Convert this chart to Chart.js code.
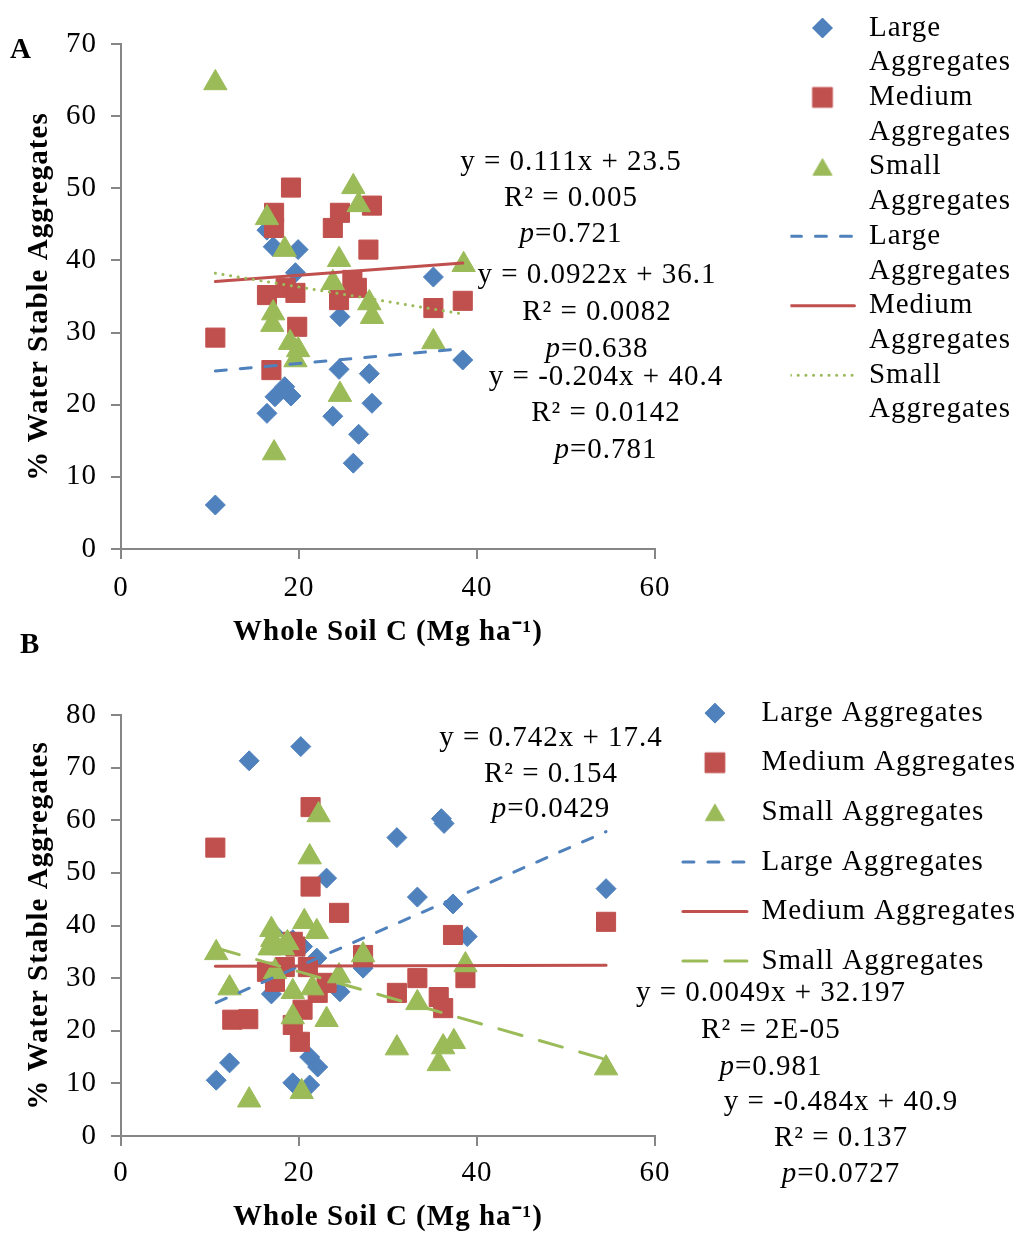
<!DOCTYPE html>
<html>
<head>
  <meta charset="utf-8">
  <title>Water Stable Aggregates vs Whole Soil C</title>
  <script src="https://cdn.jsdelivr.net/npm/chart.js"></script>
  <style>
    body {
      margin: 0;
      background: #fff;
      font-family: 'Liberation Serif', 'Times New Roman', serif;
    }
    #page {
      position: relative;
      width: 1026px;
      height: 1235px;
      overflow: hidden;
    }
    .panel {
      position: absolute;
      left: 0;
      width: 1026px;
    }
    .tag {
      position: absolute;
      font-weight: bold;
      font-size: 29px;
      line-height: 1;
    }
    .eq {
      position: absolute;
      transform: translateX(-50%);
      text-align: center;
      font-size: 29px;
      letter-spacing: 1px;
      white-space: nowrap;
    }
  </style>
</head>
<body>
<div id="page">
  <div class="panel" style="top:0;height:660px"><canvas id="chartA" width="1026" height="660"></canvas></div>
  <div class="panel" style="top:660px;height:575px"><canvas id="chartB" width="1026" height="575"></canvas></div>
  <div class="tag" style="left:10px;top:34px">A</div>
  <div class="tag" style="left:20px;top:629px">B</div>
</div>

<script>
  // ---- data ----
  const seriesNames = ['Large Aggregates', 'Medium Aggregates', 'Small Aggregates'];

  // panel A
  const aLargeX  = [10.6, 16.4, 16.4, 17.1, 17.3, 18.4, 19.1, 19.6, 19.9, 23.8, 24.5, 24.6, 26.1, 26.7, 27.9, 28.2, 35.1, 38.4];
  const aLargeY  = [6.1, 18.8, 44.2, 41.9, 21.1, 22.5, 21.2, 38.3, 41.5, 18.4, 24.9, 32.2, 11.9, 15.9, 24.3, 20.2, 37.7, 26.2];
  const aMediumX = [10.6, 16.4, 16.9, 17.2, 17.2, 18.5, 19.1, 19.6, 19.8, 23.8, 24.5, 24.6, 26.0, 26.5, 27.8, 28.2, 35.1, 38.4];
  const aMediumY = [29.3, 35.2, 24.8, 46.6, 44.5, 36.2, 50.1, 35.5, 30.8, 44.5, 34.5, 46.6, 37.3, 36.2, 41.5, 47.6, 33.4, 34.4];
  const aSmallX  = [10.6, 16.4, 17.0, 17.1, 17.2, 18.4, 19.0, 19.6, 19.9, 23.8, 24.5, 24.6, 26.1, 26.7, 27.9, 28.2, 35.1, 38.5];
  const aSmallY  = [64.6, 45.9, 31.1, 32.7, 13.3, 41.5, 28.6, 26.2, 27.6, 36.9, 40.1, 21.4, 50.2, 47.7, 34.1, 32.2, 28.7, 39.4];
  const aSlope     = [0.111, 0.0922, -0.204];
  const aIntercept = [23.5, 36.1, 40.4];
  const aEquations = [
    ['y = 0.111x + 23.5', 'R² = 0.005', 'p=0.721'],
    ['y = 0.0922x + 36.1', 'R² = 0.0082', 'p=0.638'],
    ['y = -0.204x + 40.4', 'R² = 0.0142', 'p=0.781']
  ];

  // panel B
  const bLargeX  = [10.7, 12.2, 14.4, 16.9, 17.1, 19.3, 19.3, 20.2, 20.4, 21.2, 21.2, 22.0, 22.1, 23.1, 24.6, 27.2, 31.0, 33.3, 36.0, 36.3, 37.3, 38.9, 54.5];
  const bLargeY  = [10.6, 13.9, 71.3, 27.0, 38.6, 37.3, 10.1, 74.0, 36.0, 15.0, 9.7, 33.8, 13.1, 49.0, 27.4, 31.9, 56.7, 45.4, 60.3, 59.4, 44.1, 37.9, 47.0];
  const bMediumX = [10.6, 12.5, 14.3, 16.4, 17.3, 18.4, 19.3, 19.6, 19.3, 20.1, 20.4, 21.0, 21.3, 21.3, 22.1, 23.1, 24.5, 27.2, 31.0, 33.3, 35.7, 36.2, 37.3, 38.7, 54.5];
  const bMediumY = [54.8, 22.1, 22.2, 31.2, 29.3, 32.1, 36.9, 36.0, 21.1, 17.9, 24.0, 32.1, 62.5, 47.4, 27.2, 29.1, 42.4, 34.4, 27.2, 30.0, 26.4, 24.3, 38.2, 30.0, 40.7];
  const bSmallX  = [10.7, 12.2, 14.4, 16.7, 16.9, 17.0, 17.3, 18.2, 18.7, 19.3, 19.3, 20.3, 20.6, 21.2, 21.5, 22.0, 22.2, 23.1, 24.5, 27.2, 31.0, 33.3, 35.7, 36.2, 37.4, 38.7, 54.5];
  const bSmallY  = [34.8, 28.1, 6.8, 35.7, 39.2, 37.3, 31.2, 35.7, 36.7, 27.4, 22.6, 8.4, 40.7, 53.0, 28.1, 38.8, 61.0, 22.1, 30.4, 34.4, 16.7, 25.3, 13.7, 16.9, 17.9, 32.5, 12.9];
  const bSlope     = [0.742, 0.0049, -0.484];
  const bIntercept = [17.4, 32.197, 40.9];
  const bEquations = [
    ['y = 0.742x + 17.4', 'R² = 0.154', 'p=0.0429'],
    ['y = 0.0049x + 32.197', 'R² = 2E-05', 'p=0.981'],
    ['y = -0.484x + 40.9', 'R² = 0.137', 'p=0.0727']
  ];

  // ---- styling ----
  const colors = ['#4F81BD', '#C0504D', '#9BBB59'];
  const markerStyles = ['rectRot', 'rect', 'triangle'];
  const markerRadius = [10, 13.5, 13.5];
  const legendRadius = [10, 14, 11];
  const axisGray = '#868686';
  const spacing = '1px';

  Chart.defaults.font.family = "'Liberation Serif', 'Times New Roman', serif";
  Chart.defaults.font.size = 29;
  Chart.defaults.color = '#000';

  // slightly wider letter spacing like the original figure
  const spacingPlugin = {
    id: 'spacing',
    beforeUpdate(chart) { chart.ctx.letterSpacing = spacing; },
    beforeDraw(chart) { chart.ctx.letterSpacing = spacing; }
  };

  function markerIcon(i) {
    const c = document.createElement('canvas');
    c.width = 32;
    c.height = 32;
    const g = c.getContext('2d');
    g.fillStyle = colors[i];
    g.strokeStyle = colors[i];
    g.lineWidth = 1;
    const r = legendRadius[i];
    const cy = markerStyles[i] === 'triangle' ? 16 + r / 4 : 16;
    Chart.helpers.drawPoint(g, { pointStyle: markerStyles[i], radius: r, borderWidth: 1, rotation: 0 }, 16, cy);
    return c;
  }

  function buildChart(id, p) {
    const datasets = [];
    p.xs.forEach((xs, i) => {
      datasets.push({
        label: seriesNames[i],
        data: xs.map((v, k) => ({ x: v, y: p.ys[i][k] })),
        xAxisID: 'x', yAxisID: 'y',
        pointStyle: markerStyles[i],
        pointRadius: markerRadius[i],
        backgroundColor: colors[i],
        borderColor: colors[i],
        pointBorderWidth: 1,
        order: 6 - i
      });
    });
    // linear trendlines over each series' x range
    p.xs.forEach((xs, i) => {
      const x0 = Math.min(...xs), x1 = Math.max(...xs);
      datasets.push({
        label: seriesNames[i],
        trend: true,
        data: [x0, x1].map(v => ({ x: v, y: p.slope[i] * v + p.intercept[i] })),
        xAxisID: 'x', yAxisID: 'y',
        showLine: true,
        pointRadius: 0,
        borderColor: colors[i],
        borderWidth: 3,
        borderDash: p.dash[i],
        borderCapStyle: 'round',
        order: 3 - i
      });
    });

    const hidden = {
      display: true,
      grid: { display: false },
      border: { display: false },
      ticks: { display: false }
    };

    return new Chart(document.getElementById(id), {
      type: 'scatter',
      data: { datasets },
      plugins: [spacingPlugin],
      options: {
        responsive: false,
        animation: false,
        events: [],
        layout: { padding: { top: p.padTop, right: p.padRight, bottom: 0, left: 0 } },
        plugins: {
          tooltip: { enabled: false },
          legend: {
            position: 'right',
            align: 'start',
            reverse: true,
            maxWidth: 420,
            labels: {
              usePointStyle: true,
              pointStyleWidth: 64,
              padding: p.legendPad,
              font: { size: 29, lineHeight: p.legendLine },
              color: '#000',
              generateLabels(chart) {
                const items = Chart.defaults.plugins.legend.labels.generateLabels(chart);
                return items.map(it => {
                  const ds = chart.data.datasets[it.datasetIndex];
                  const k = seriesNames.indexOf(ds.label);
                  it.text = p.wrap ? ds.label.split(' ') : ds.label;
                  if (ds.trend) {
                    it.pointStyle = 'line';
                    it.lineWidth = 3;
                    it.lineDash = ds.borderDash;
                    it.lineCap = 'round';
                    it.strokeStyle = ds.borderColor;
                  } else {
                    it.pointStyle = markerIcon(k);
                  }
                  return it;
                });
              }
            }
          }
        },
        scales: {
          x: {
            type: 'linear',
            min: 0, max: 60,
            ticks: { stepSize: 20, padding: p.xTickPad },
            border: { color: axisGray, width: 2 },
            grid: { drawOnChartArea: false, tickLength: 10, color: axisGray, lineWidth: 2 },
            title: {
              display: true,
              text: 'Whole Soil C (Mg ha⁻¹)',
              font: { size: 29, weight: 'bold' },
              padding: { top: 0, bottom: p.xTitlePad }
            },
            afterFit(s) { s.height = p.xHeight; }
          },
          y: {
            type: 'linear',
            min: 0, max: p.yMax,
            ticks: { stepSize: 10, padding: 14 },
            border: { color: axisGray, width: 2 },
            grid: { drawOnChartArea: false, tickLength: 10, color: axisGray, lineWidth: 2 },
            title: {
              display: true,
              text: '% Water Stable Aggregates',
              font: { size: 29, weight: 'bold' },
              padding: { top: 22.5, bottom: 0 }
            },
            afterFit(s) { s.width = 121; }
          },
          // empty boxes that keep the plot area where the original has it
          xTop: Object.assign({ type: 'linear', position: 'top', afterFit(s) { s.height = p.topGap; } }, hidden),
          yR: Object.assign({
            type: 'linear', position: 'right',
            afterFit(s) {
              const lw = s.chart.legend ? s.chart.legend.width : 0;
              s.width = Math.max(0, s.chart.width - p.padRight - lw - 655);
            }
          }, hidden)
        }
      }
    });
  }

  buildChart('chartA', {
    xs: [aLargeX, aMediumX, aSmallX],
    ys: [aLargeY, aMediumY, aSmallY],
    slope: aSlope, intercept: aIntercept,
    dash: [[11, 14], [], [0.1, 7.6]],
    yMax: 70,
    wrap: true,
    padTop: 13.5, topGap: 30.5, padRight: 5,
    legendPad: 0, legendLine: 1.197,
    xHeight: 111, xTickPad: 11.5, xTitlePad: 10.5
  });

  buildChart('chartB', {
    xs: [bLargeX, bMediumX, bSmallX],
    ys: [bLargeY, bMediumY, bSmallY],
    slope: bSlope, intercept: bIntercept,
    dash: [[11, 14], [], [24, 18]],
    yMax: 80,
    wrap: false,
    padTop: 18, topGap: 37, padRight: 0,
    legendPad: 20.6, legendLine: 1.2,
    xHeight: 99, xTickPad: 9.5, xTitlePad: 0.5
  });

  // regression equations (x centre, first line centre, line step)
  const aEqPos = [[571, 160, 36], [597, 273, 37], [606, 375, 36.5]];
  const bEqPos = [[551, 737, 35.5], [771, 991, 37], [841, 1100, 36]];

  function addEquations(list, pos) {
    const page = document.getElementById('page');
    list.forEach((lines, i) => {
      const [cx, cy, step] = pos[i];
      const div = document.createElement('div');
      div.className = 'eq';
      div.style.left = cx + 'px';
      div.style.top = (cy - step / 2) + 'px';
      div.style.lineHeight = step + 'px';
      div.innerHTML = lines.map(t => t.replace(/^p=/, '<i>p</i>=')).join('<br>');
      page.appendChild(div);
    });
  }
  addEquations(aEquations, aEqPos);
  addEquations(bEquations, bEqPos);
</script>
</body>
</html>
